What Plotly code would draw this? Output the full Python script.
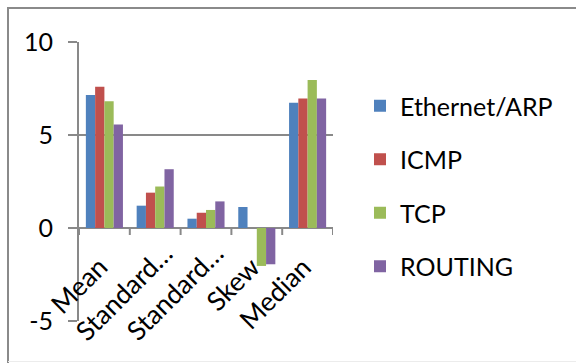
import plotly.graph_objects as go

categories = ["Mean", "Standard…", "Standard…", "Skew", "Median"]
series_names = ["Ethernet/ARP", "ICMP", "TCP", "ROUTING"]
ethernet_arp = [7.15, 1.2, 0.5, 1.13, 6.74]
icmp = [7.6, 1.9, 0.82, 0.0, 6.96]
tcp = [6.82, 2.23, 0.97, -2.04, 7.96]
routing = [5.57, 3.16, 1.43, -1.95, 6.96]
colors = ["#4F81BD", "#C0504D", "#9BBB59", "#8064A2"]
y_ticks = [-5, 0, 5, 10]
y_tick_labels = ["-5", "0", "5", "10"]

FONT = "Lato"
W, H = 576, 363
L, R, T, B = 79, 333, 42, 321  # plot area pixel bounds

fig = go.Figure()
x_idx = list(range(len(categories)))
for name, vals, col in zip(series_names, [ethernet_arp, icmp, tcp, routing], colors):
    fig.add_trace(go.Bar(x=x_idx, y=vals, name=name, marker=dict(color=col, line=dict(width=0)),
                         legendgroup=name))

def px_x(p):
    return (p - L) / (R - L)

def px_y(p):
    return (B - p) / (B - T)

shapes = []
# x-axis tick marks below zero line at category boundaries
for b in [i - 0.5 for i in range(len(categories) + 1)]:
    shapes.append(dict(type="line", xref="x", yref="y", x0=b, x1=b, y0=0, y1=-7,
                       ysizemode="pixel", yanchor=0, line=dict(color="#898989", width=2)))
# chart border (left, top, faint bottom)
shapes.append(dict(type="line", xref="paper", yref="paper", x0=px_x(8), x1=px_x(8),
                   y0=px_y(8), y1=px_y(363), line=dict(color="#8a8a8a", width=2)))
shapes.append(dict(type="line", xref="paper", yref="paper", x0=px_x(7), x1=px_x(577),
                   y0=px_y(8), y1=px_y(8), line=dict(color="#8a8a8a", width=2)))
shapes.append(dict(type="line", xref="paper", yref="paper", x0=px_x(8), x1=px_x(577),
                   y0=px_y(361.5), y1=px_y(361.5), line=dict(color="#ececec", width=1)))

annotations = []
for i, c in enumerate(categories):
    extra = 14 if c.endswith("…") else 0
    annotations.append(dict(x=i, y=0, xref="x", yref="y", text=c, showarrow=False,
                            textangle=-45, xanchor="right", yanchor="top",
                            xshift=12 + extra, yshift=-20 + extra,
                            font=dict(family=FONT, size=26.5, color="#000000")))

fig.update_layout(
    width=W, height=H,
    margin=dict(l=L, r=W - R, t=T, b=H - B, pad=0, autoexpand=False),
    paper_bgcolor="white", plot_bgcolor="white",
    barmode="group", bargap=0.27, bargroupgap=0,
    font=dict(family=FONT, size=25, color="#000000"),
    xaxis=dict(range=[-0.5, len(categories) - 0.5], showticklabels=False, ticks="",
               showgrid=False, zeroline=False, showline=False, fixedrange=True),
    yaxis=dict(range=[-5, 10], tickvals=y_ticks, ticktext=y_tick_labels,
               ticks="outside", ticklen=9, tickwidth=2, tickcolor="#898989",
               ticklabelstandoff=10,
               showgrid=True, gridcolor="#898989", gridwidth=2,
               zeroline=True, zerolinecolor="#898989", zerolinewidth=2,
               showline=True, linecolor="#898989", linewidth=2,
               tickfont=dict(family=FONT, size=25, color="#000000")),
    legend=dict(x=px_x(360), y=px_y(83), xanchor="left", yanchor="top",
                font=dict(family=FONT, size=25, color="#000000"),
                tracegroupgap=18, itemclick=False, bgcolor="rgba(0,0,0,0)"),
    shapes=shapes, annotations=annotations,
    showlegend=True,
)

fig.write_html("out.html", config={"displayModeBar": False},
               post_script="document.body.style.margin='0';document.body.style.overflow='hidden';")
